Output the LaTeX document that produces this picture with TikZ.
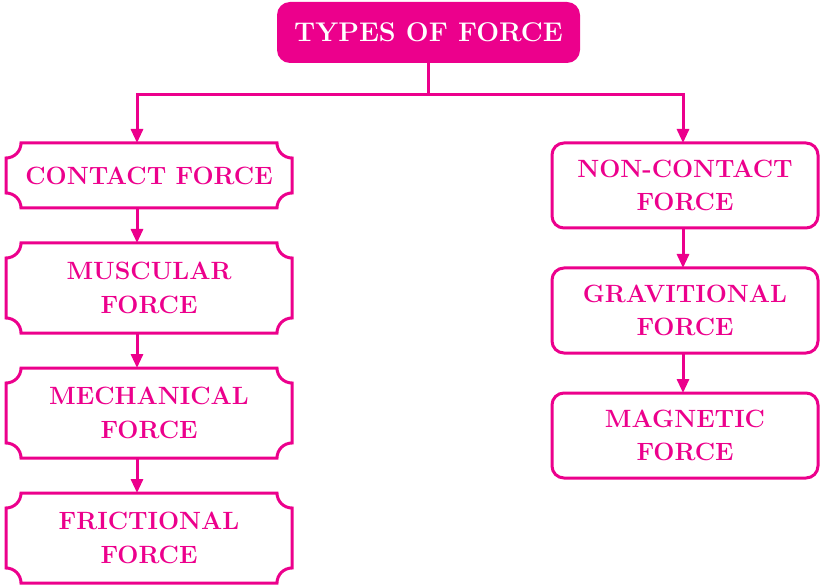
\documentclass[tikz,border=0pt]{standalone}
\usepackage{tikz}
\usetikzlibrary{arrows.meta,positioning}
\definecolor{forcepink}{RGB}{236,0,140}

\begin{document}
\begin{tikzpicture}[x=1pt,y=1pt,node distance=35pt,>={Triangle[length=14pt,width=12pt]}]
\tikzstyle{every path}=[line width=3pt,forcepink];
\tikzstyle{title}=[fill=forcepink,rounded corners=13pt,text=white,font=\fontsize{27}{34}\selectfont\bfseries,minimum width=303pt,minimum height=61pt,outer sep=0pt]
\tikzstyle{leftbox}=[minimum width=286pt,minimum height=90pt,outer sep=0pt,align=center,font=\fontsize{25}{34}\selectfont\bfseries]
\tikzstyle{rightbox}=[draw,rounded corners=12pt,minimum width=266pt,minimum height=85pt,outer sep=0pt,align=center,font=\fontsize{25}{33}\selectfont\bfseries]
\useasboundingbox (0,0) rectangle (824,-585);
\node[title] (types) at (428.5,-32.5) {TYPES OF FORCE};
% contact side
\node[leftbox,minimum height=65pt] (contact) at (149,-175.5) {CONTACT FORCE};
\node[leftbox] (muscular) [below=of contact] {MUSCULAR\\FORCE};
\node[leftbox] (mechanical) [below=of muscular] {MECHANICAL\\FORCE};
\node[leftbox] (frictional) [below=of mechanical] {FRICTIONAL\\FORCE};
% non-contact side
\node[rightbox] (noncontact) at (685,-185.5) {NON-CONTACT\\FORCE};
\node[rightbox] (gravitional) [below=40pt of noncontact] {GRAVITIONAL\\FORCE};
\node[rightbox] (magnetic) [below=40pt of gravitional] {MAGNETIC\\FORCE};
% notched outlines
\foreach \n in {contact,muscular,mechanical,frictional}
  \draw ([xshift=15pt]\n.north west) -- ([xshift=-15pt]\n.north east)
    arc[start angle=180,end angle=270,radius=15pt] -- ([yshift=15pt]\n.south east)
    arc[start angle=90,end angle=180,radius=15pt] -- ([xshift=15pt]\n.south west)
    arc[start angle=0,end angle=90,radius=15pt] -- ([yshift=-15pt]\n.north west)
    arc[start angle=270,end angle=360,radius=15pt] -- cycle;
\coordinate (split) at (428.5,-95);
\draw (types.south) -- (split);
\draw[->] (split) -| ([xshift=-12pt]contact.north);
\draw[->] (split) -| ([xshift=-2pt]noncontact.north);
\foreach \a/\b in {contact/muscular,muscular/mechanical,mechanical/frictional}
  \draw[->] ([xshift=-12pt]\a.south) -- ([xshift=-12pt]\b.north);
\foreach \a/\b in {noncontact/gravitional,gravitional/magnetic}
  \draw[->] ([xshift=-2pt]\a.south) -- ([xshift=-2pt]\b.north);
\end{tikzpicture}
\end{document}
